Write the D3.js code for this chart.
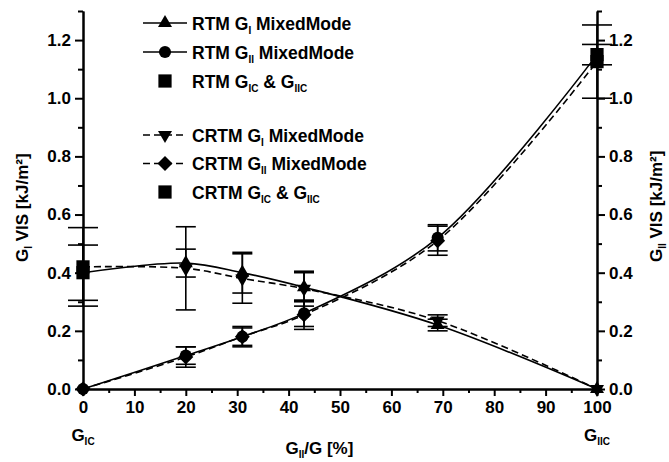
<!DOCTYPE html>
<html>
<head>
<meta charset="utf-8">
<script src="https://cdn.jsdelivr.net/npm/d3@7"></script>
<style>
  body { margin: 0; background: #fff; }
  svg { display: block; font-family: "Liberation Sans", Arial, sans-serif; font-weight: bold; }
</style>
</head>
<body>
<svg id="chart" width="669" height="462"></svg>
<script>
// mode mixity (GII/G in %)
const xVals = [0, 20, 31, 43, 69, 100];

// RTM
const rtmGI = [0.40, 0.433, 0.40, 0.35, 0.22, 0.0];
const rtmGIErr = [0.095, 0.048, 0.07, 0.05, 0.02, 0];
const rtmGII = [0.0, 0.115, 0.18, 0.26, 0.52, 1.15];
const rtmGIIErr = [0, 0.03, 0.035, 0.045, 0.045, 0.035];

// CRTM
const crtmGI = [0.42, 0.415, 0.38, 0.345, 0.235, 0.0];
const crtmGIErr = [0.135, 0.143, 0.085, 0.06, 0.02, 0];
const crtmGII = [0.0, 0.11, 0.18, 0.255, 0.51, 1.126];
const crtmGIIErr = [0, 0.035, 0.03, 0.05, 0.05, 0.126];

const xMajor = [0, 10, 20, 30, 40, 50, 60, 70, 80, 90, 100];
const xMinor = [5, 15, 25, 35, 45, 55, 65, 75, 85, 95];
const yMajor = [0, 0.2, 0.4, 0.6, 0.8, 1.0, 1.2];
const yMinor = [0.1, 0.3, 0.5, 0.7, 0.9, 1.1, 1.3];

// text pieces: [text, isSubscript]
const legendLabels = [
  [["RTM G", 0], ["I", 1], ["  MixedMode", 0]],
  [["RTM G", 0], ["II", 1], ["  MixedMode", 0]],
  [["RTM G", 0], ["IC", 1], [" & G", 0], ["IIC", 1]],
  [["CRTM G", 0], ["I", 1], ["  MixedMode", 0]],
  [["CRTM G", 0], ["II", 1], ["  MixedMode", 0]],
  [["CRTM G", 0], ["IC", 1], [" & G", 0], ["IIC", 1]]
];
const legendSymbols = ["up", "circle", "square", "down", "diamond", "square"];
const legendDashed = [false, false, null, true, true, null];

const yLeftTitle = [["G", 0], ["I", 1], [" VIS [kJ/m²]", 0]];
const yRightTitle = [["G", 0], ["II", 1], [" VIS [kJ/m²]", 0]];
const xTitle = [["G", 0], ["II", 1], ["/G [%]", 0]];

/***** SETUP *****/
const svg = d3.select("#chart");
const x = d3.scaleLinear().domain([0, 100]).range([83, 597]);
const y = d3.scaleLinear().domain([0, 1.3]).range([389, 11]);

function richText(sel, parts, size, subSize) {
  sel.style("font-size", size + "px");
  let shifted = false;
  parts.forEach(p => {
    const t = sel.append("tspan").text(p[0]);
    if (p[1] && !shifted) { t.attr("dy", 4).style("font-size", subSize + "px"); shifted = true; }
    else if (!p[1] && shifted) { t.attr("dy", -4); shifted = false; }
    else if (p[1]) t.style("font-size", subSize + "px");
  });
  return sel;
}

function symbolPath(kind) {
  if (kind === "circle") return d3.symbol(d3.symbolCircle, 115)();
  if (kind === "square") return d3.symbol(d3.symbolSquare, 175)();
  if (kind === "diamond") return d3.symbol(d3.symbolSquare, 112)();
  return d3.symbol(d3.symbolTriangle, 85)();
}
function symbolRotate(kind) {
  if (kind === "down") return 180;
  if (kind === "diamond") return 45;
  return 0;
}

/***** AXES *****/
function styleAxis(g) {
  g.select(".domain").attr("stroke", "#000").attr("stroke-width", 2);
  g.selectAll(".tick line").attr("stroke", "#000").attr("stroke-width", 2);
  g.selectAll(".tick text").attr("fill", "#000").style("font-size", "17px").style("font-family", "Liberation Sans, Arial, sans-serif").style("font-weight", "bold");
}

svg.append("g")
  .attr("transform", `translate(0,${y(0)})`)
  .call(d3.axisBottom(x).tickValues(xMinor).tickSize(4).tickFormat("").tickSizeOuter(0))
  .call(styleAxis);
svg.append("g")
  .attr("transform", `translate(0,${y(0)})`)
  .call(d3.axisBottom(x).tickValues(xMajor).tickSize(7).tickPadding(5).tickFormat(d3.format("d")).tickSizeOuter(0))
  .call(styleAxis);

[[d3.axisLeft, x(0)], [d3.axisRight, x(100)]].forEach(([ax, px]) => {
  svg.append("g")
    .attr("transform", `translate(${px},0)`)
    .call(ax(y).tickValues(yMinor).tickSize(5).tickFormat("").tickSizeOuter(0))
    .call(styleAxis);
  svg.append("g")
    .attr("transform", `translate(${px},0)`)
    .call(ax(y).tickValues(yMajor).tickSize(8).tickPadding(4).tickFormat(d3.format(".1f")).tickSizeOuter(0))
    .call(styleAxis);
});

// axis titles
richText(svg.append("text")
  .attr("transform", `translate(28,262) rotate(-90)`), yLeftTitle, 17, 10);
richText(svg.append("text")
  .attr("transform", `translate(662,262) rotate(-90)`), yRightTitle, 17, 10);
richText(svg.append("text")
  .attr("x", x(46)).attr("y", 454).attr("text-anchor", "middle"), xTitle, 17, 10);
richText(svg.append("text")
  .attr("x", x(0)).attr("y", 441).attr("text-anchor", "middle"), [["G", 0], ["IC", 1]], 17, 10);
richText(svg.append("text")
  .attr("x", x(100)).attr("y", 441).attr("text-anchor", "middle"), [["G", 0], ["IIC", 1]], 17, 10);

/***** SERIES *****/
const series = [
  { vals: rtmGI, err: rtmGIErr, dash: null, sym: (i) => i === 0 ? "square" : "up" },
  { vals: rtmGII, err: rtmGIIErr, dash: null, sym: (i) => i === 5 ? "square" : "circle" },
  { vals: crtmGI, err: crtmGIErr, dash: "7,4", sym: (i) => i === 0 ? "square" : "down" },
  { vals: crtmGII, err: crtmGIIErr, dash: "7,4", sym: (i) => i === 5 ? "square" : "diamond" }
];

const line = d3.line()
  .x(d => x(d[0]))
  .y(d => y(d[1]))
  .curve(d3.curveCatmullRom.alpha(0.5));

const plot = svg.append("g");

series.forEach(s => {
  const pts = xVals.map((xv, i) => [xv, s.vals[i]]);
  plot.append("path")
    .attr("d", line(pts))
    .attr("fill", "none")
    .attr("stroke", "#000")
    .attr("stroke-width", 1.6)
    .attr("stroke-dasharray", s.dash);
});

series.forEach(s => {
  xVals.forEach((xv, i) => {
    const e = s.err[i];
    if (!e) return;
    const cw = (i === 0 || i === 5) ? 15 : 10;
    const g = plot.append("g").attr("stroke", "#000").attr("stroke-width", 1.6);
    g.append("line").attr("x1", x(xv)).attr("x2", x(xv)).attr("y1", y(s.vals[i] - e)).attr("y2", y(s.vals[i] + e));
    [s.vals[i] - e, s.vals[i] + e].forEach(v => {
      g.append("line").attr("x1", x(xv) - cw).attr("x2", x(xv) + cw).attr("y1", y(v)).attr("y2", y(v));
    });
  });
});

series.forEach(s => {
  xVals.forEach((xv, i) => {
    const k = s.sym(i);
    plot.append("path")
      .attr("d", symbolPath(k))
      .attr("transform", `translate(${x(xv)},${y(s.vals[i])}) rotate(${symbolRotate(k)})`)
      .attr("fill", "#000");
  });
});

/***** LEGEND *****/
const legendY = [23, 52, 81, 135, 163.5, 192];
const legend = svg.append("g");
legendLabels.forEach((lab, i) => {
  const ly = legendY[i];
  if (legendDashed[i] !== null) {
    legend.append("line")
      .attr("x1", 143).attr("x2", 187).attr("y1", ly).attr("y2", ly)
      .attr("stroke", "#000").attr("stroke-width", 1.6)
      .attr("stroke-dasharray", legendDashed[i] ? "7,4" : null);
  }
  const k = legendSymbols[i];
  legend.append("path")
    .attr("d", symbolPath(k))
    .attr("transform", `translate(165,${ly}) rotate(${symbolRotate(k)})`)
    .attr("fill", "#000");
  richText(legend.append("text").attr("x", 192).attr("y", ly + 6.5), lab, 17.5, 10);
});
</script>
</body>
</html>
